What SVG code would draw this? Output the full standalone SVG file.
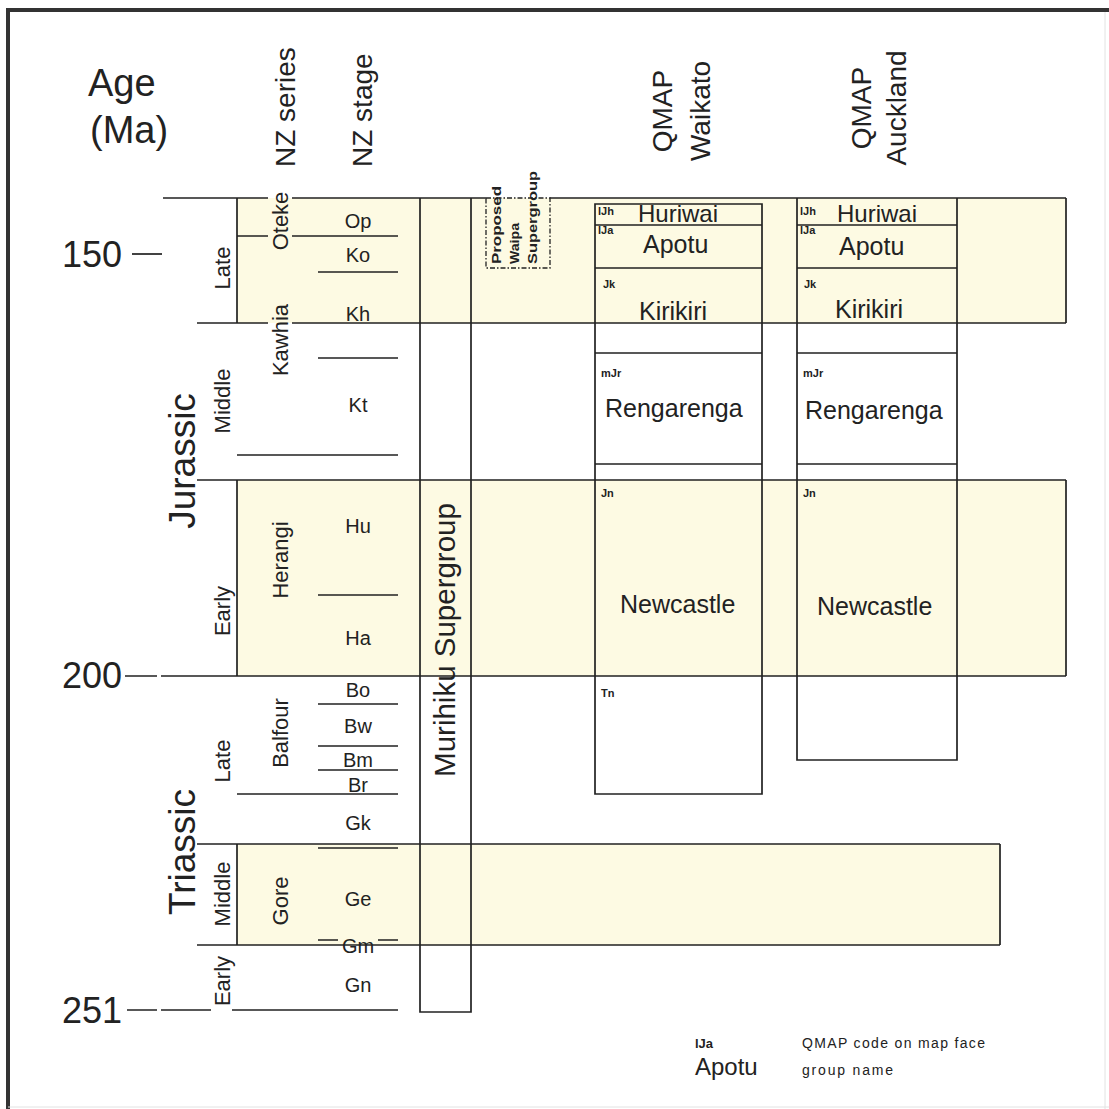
<svg xmlns="http://www.w3.org/2000/svg" width="1109" height="1109" viewBox="0 0 1109 1109">
<style>
text{font-family:"Liberation Sans",Arial,sans-serif;fill:#222}
.hdr{font-size:28px}
.big{font-size:36px}
.age{font-size:38px}
.per{font-size:37px}
.ser{font-size:22px}
.stg{font-size:20px;text-anchor:middle}
.grp{font-size:25px}
.code{font-size:11px;font-weight:bold}
.ln{stroke:#222;stroke-width:1.7;fill:none}
.band{fill:#fdfae3;stroke:none}
.mid{text-anchor:middle}
</style>
<rect width="1109" height="1109" fill="#fff"/>
<g id="frame">
<line x1="8" y1="10" x2="8" y2="1109" stroke="#333" stroke-width="4"/>
<line x1="6" y1="10" x2="1109" y2="10" stroke="#333" stroke-width="4"/>
<line x1="1105" y1="12" x2="1105" y2="1109" stroke="#e2e2e2" stroke-width="1"/>
<line x1="8" y1="1107" x2="1109" y2="1107" stroke="#e2e2e2" stroke-width="1"/>
</g>
<g id="bands">
<rect class="band" x="237" y="198" width="829" height="125"/>
<rect class="band" x="237" y="480" width="829" height="196"/>
<rect class="band" x="237" y="844" width="763" height="101"/>
</g>
<g id="headers">
<text class="age" x="88" y="96">Age</text>
<text class="age" x="90" y="143">(Ma)</text>
<text class="hdr" transform="translate(295,167) rotate(-90)">NZ series</text>
<text class="hdr" transform="translate(372,167) rotate(-90)">NZ stage</text>
<text class="hdr mid" transform="translate(672,111) rotate(-90)">QMAP</text>
<text class="hdr mid" transform="translate(710,111) rotate(-90)">Waikato</text>
<text class="hdr mid" transform="translate(871,108) rotate(-90)">QMAP</text>
<text class="hdr mid" transform="translate(906,108) rotate(-90)">Auckland</text>
</g>
<g id="age-scale">
<text class="big" x="62" y="267">150</text>
<text class="big" x="62" y="688">200</text>
<text class="big" x="62" y="1023">251</text>
</g>
<g id="periods">
<text class="per mid" transform="translate(195,461) rotate(-90)">Jurassic</text>
<text class="per mid" transform="translate(195,852) rotate(-90)">Triassic</text>
</g>
<g id="epochs">
<text class="ser mid" transform="translate(230,268) rotate(-90)">Late</text>
<text class="ser mid" transform="translate(230,401) rotate(-90)">Middle</text>
<text class="ser mid" transform="translate(230,611) rotate(-90)">Early</text>
<text class="ser mid" transform="translate(230,761) rotate(-90)">Late</text>
<text class="ser mid" transform="translate(230,894) rotate(-90)">Middle</text>
<text class="ser mid" transform="translate(230,981) rotate(-90)">Early</text>
</g>
<g id="series">
<text class="ser mid" transform="translate(288,221) rotate(-90)">Oteke</text>
<text class="ser mid" transform="translate(288,340) rotate(-90)">Kawhia</text>
<text class="ser mid" transform="translate(288,560) rotate(-90)">Herangi</text>
<text class="ser mid" transform="translate(288,733) rotate(-90)">Balfour</text>
<text class="ser mid" transform="translate(288,901) rotate(-90)">Gore</text>
</g>
<g id="stages">
<text class="stg" x="358" y="228">Op</text>
<text class="stg" x="358" y="262">Ko</text>
<text class="stg" x="358" y="321">Kh</text>
<text class="stg" x="358" y="412">Kt</text>
<text class="stg" x="358" y="533">Hu</text>
<text class="stg" x="358" y="645">Ha</text>
<text class="stg" x="358" y="697">Bo</text>
<text class="stg" x="358" y="733">Bw</text>
<text class="stg" x="358" y="767">Bm</text>
<text class="stg" x="358" y="792">Br</text>
<text class="stg" x="358" y="830">Gk</text>
<text class="stg" x="358" y="906">Ge</text>
<text class="stg" x="358" y="953">Gm</text>
<text class="stg" x="358" y="992">Gn</text>
</g>
<g id="connectors" class="ln">
<path d="M163 198H268M292 198H486M550 198H1066"/>
<path d="M197 323H268M292 323H1066"/>
<path d="M237 198V323M1066 198V323"/>
<path d="M197 480H1066M125 676H157M161 676H1066M237 480V676M1066 480V676"/>
<path d="M197 844H1000M197 945H1000M237 844V945M1000 844V945"/>
<path d="M237 236H268M292 236H398"/>
<path d="M318 272H398M318 358H398M237 455H398M318 595H398"/>
<path d="M318 704H398M318 746H398M318 770H398M237 794H398M318 848H398"/>
<path d="M318 940H338M378 940H398"/>
<path d="M127 1010H157M161 1010H211M232 1010H398"/>
<path d="M132 254H162"/>
</g>
<g id="murihiku">
<path class="ln" d="M420 198V1012H471V198"/>
<text class="hdr mid" style="font-size:29.5px" transform="translate(455,640) rotate(-90)">Murihiku Supergroup</text>
</g>
<g id="waipa">
<rect x="486" y="198" width="64" height="70" fill="none" stroke="#222" stroke-width="1.3" stroke-dasharray="5,2,1.5,2"/>
<text class="code" style="font-size:13px" transform="translate(501,264) rotate(-90)" textLength="78" lengthAdjust="spacingAndGlyphs">Proposed</text>
<text class="code" style="font-size:13px" transform="translate(519,264) rotate(-90)" textLength="41" lengthAdjust="spacingAndGlyphs">Waipa</text>
<text class="code" style="font-size:13px" transform="translate(537,264) rotate(-90)" textLength="93" lengthAdjust="spacingAndGlyphs">Supergroup</text>
</g>
<g id="qmap-waikato">
<path class="ln" d="M595 204V794H762V204ZM595 225H762M595 268H762M595 353H762M595 464H762"/>
<text class="code" x="598" y="215">lJh</text>
<text class="grp" style="font-size:24px" x="638" y="222">Huriwai</text>
<text class="code" x="598" y="234">lJa</text>
<text class="grp" x="643" y="253">Apotu</text>
<text class="code" x="603" y="288">Jk</text>
<text class="grp" x="639" y="320">Kirikiri</text>
<text class="code" x="601" y="377">mJr</text>
<text class="grp" x="605" y="417">Rengarenga</text>
<text class="code" x="601" y="497">Jn</text>
<text class="grp" x="620" y="613">Newcastle</text>
<text class="code" x="601" y="697">Tn</text>
</g>
<g id="qmap-auckland">
<path class="ln" d="M797 198V760H957V198M797 225H957M797 268H957M797 353H957M797 464H957"/>
<text class="code" x="800" y="215">lJh</text>
<text class="grp" style="font-size:24px" x="837" y="222">Huriwai</text>
<text class="code" x="800" y="234">lJa</text>
<text class="grp" x="839" y="255">Apotu</text>
<text class="code" x="804" y="288">Jk</text>
<text class="grp" x="835" y="318">Kirikiri</text>
<text class="code" x="803" y="377">mJr</text>
<text class="grp" x="805" y="419">Rengarenga</text>
<text class="code" x="803" y="497">Jn</text>
<text class="grp" x="817" y="615">Newcastle</text>
</g>
<g id="legend">
<text class="code" style="font-size:13px" x="695" y="1048">lJa</text>
<text class="grp" style="font-size:24px" x="695" y="1075">Apotu</text>
<text style="font-size:14px" x="802" y="1048" textLength="183" lengthAdjust="spacing">QMAP code on map face</text>
<text style="font-size:14px" x="802" y="1075" textLength="91" lengthAdjust="spacing">group name</text>
</g>
</svg>
